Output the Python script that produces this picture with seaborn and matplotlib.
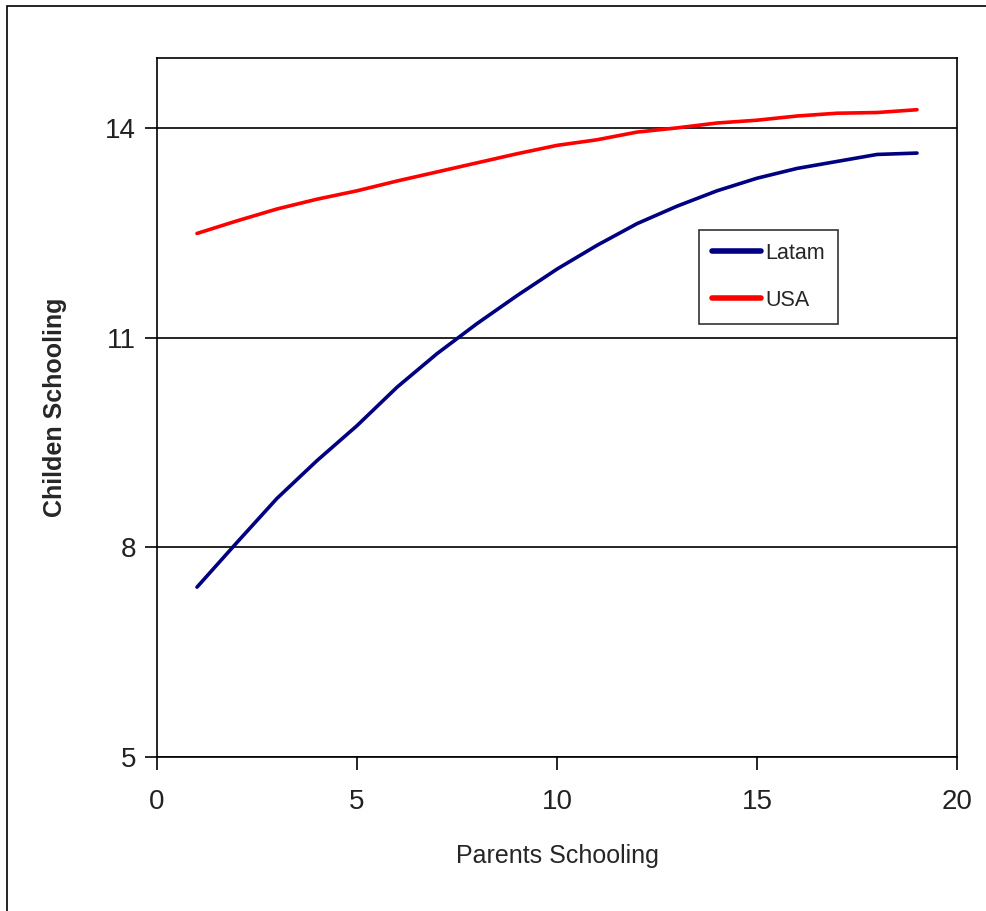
import pandas as pd
import seaborn as sns
import numpy as np
import matplotlib.pyplot as plt
from matplotlib.patches import Rectangle

# values
parents_years = [1, 2, 3, 4, 5, 6, 7, 8, 9, 10, 11, 12, 13, 14, 15, 16, 17, 18, 19]
latam = [7.43, 8.07, 8.70, 9.24, 9.74, 10.29, 10.77, 11.20, 11.60, 11.98,
         12.32, 12.63, 12.88, 13.10, 13.28, 13.42, 13.52, 13.62, 13.64]
usa = [12.49, 12.67, 12.84, 12.98, 13.10, 13.24, 13.37, 13.50, 13.63, 13.75,
       13.83, 13.94, 14.00, 14.07, 14.11, 14.17, 14.21, 14.22, 14.26]
x_ticks = [0, 5, 10, 15, 20]
y_ticks = [5, 8, 11, 14]

df = pd.DataFrame({
    'Parents Schooling': parents_years * 2,
    'Childen Schooling': latam + usa,
    'region': ['Latam'] * len(latam) + ['USA'] * len(usa),
})

sns.set_style('white')
plt.rcParams['font.family'] = ['Liberation Sans Narrow', 'Liberation Sans', 'DejaVu Sans']

fig = plt.figure(figsize=(9.87, 9.11), dpi=100)
ax = fig.add_axes([157 / 987, 1 - 757 / 911, 800 / 987, 699 / 911])

# outer frame of the figure
fig.patches.append(Rectangle((7 / 987, -0.1), 1.2, 1 - 6 / 911 + 0.1,
                             transform=fig.transFigure, fill=False,
                             edgecolor='black', linewidth=1.2))

sns.lineplot(data=df, x='Parents Schooling', y='Childen Schooling', hue='region',
             palette={'Latam': '#000080', 'USA': '#FF0000'}, linewidth=2.6, ax=ax)

ax.set_xlim(0, 20)
ax.set_ylim(5, 15)
ax.set_xticks(x_ticks)
ax.set_yticks(y_ticks)
ax.yaxis.grid(True, color='black', linewidth=1.2)
ax.set_axisbelow(True)
for s in ax.spines.values():
    s.set_color('black')
    s.set_linewidth(1.2)
ax.tick_params(axis='both', direction='out', length=9, width=1.2, color='black',
               bottom=True, left=True, labelsize=20, labelcolor='#222222')
ax.tick_params(axis='x', pad=14)
ax.tick_params(axis='y', pad=6)

ax.set_xlabel('Parents Schooling', fontsize=18)
ax.xaxis.set_label_coords(0.5, -0.124)
ax.set_ylabel('Childen Schooling', fontsize=18, fontweight='bold',
              family=['Liberation Sans', 'DejaVu Sans'], va='center')
ax.yaxis.set_label_coords(-0.128, 0.5)

leg = ax.legend(loc='upper left', bbox_to_anchor=(542 / 800, 1 - 172 / 699),
                fontsize=15.5, frameon=True, fancybox=False, edgecolor='black',
                handlelength=2.3, handletextpad=0.2, labelspacing=1.2,
                borderpad=0.6, borderaxespad=0)
leg.get_frame().set_linewidth(1.2)
for line in leg.get_lines():
    line.set_linewidth(4)

fig.savefig('out.png', dpi=100)
